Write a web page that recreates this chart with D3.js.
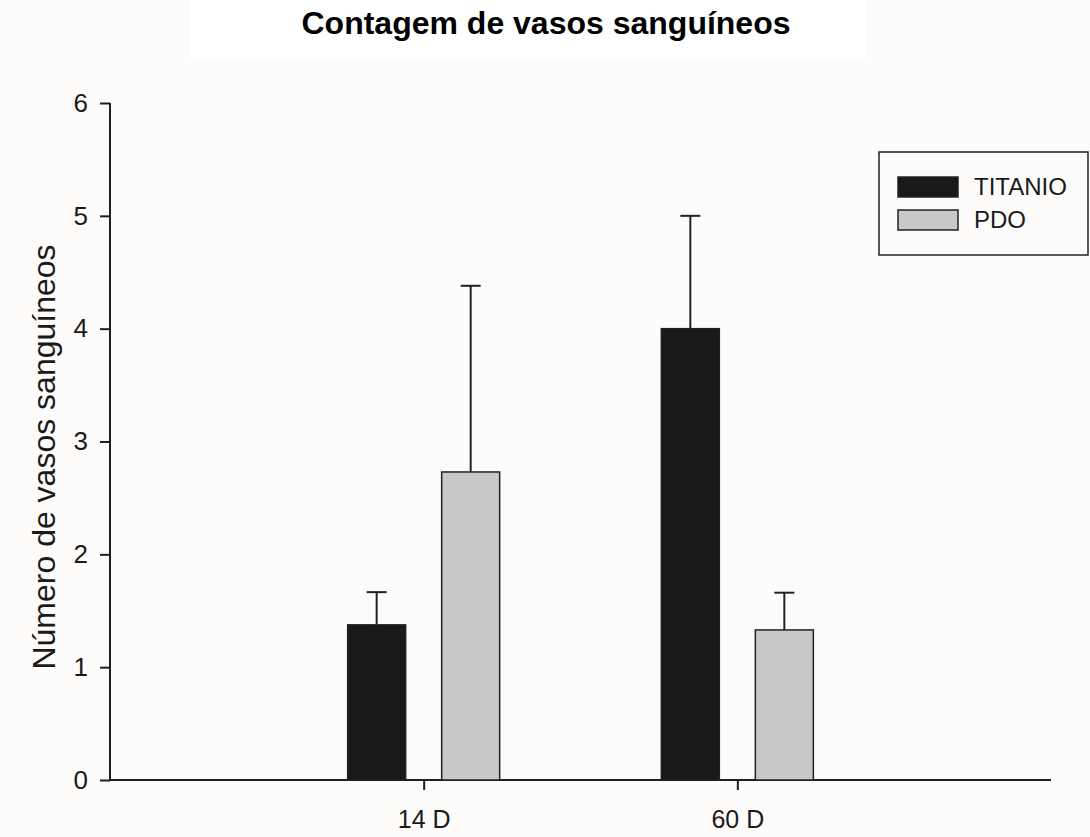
<!DOCTYPE html>
<html>
<head>
<meta charset="utf-8">
<script src="https://cdn.jsdelivr.net/npm/d3@7"></script>
<style>
  html, body { margin: 0; padding: 0; background: #fdfcfa; }
  svg { display: block; }
  text { font-family: "Liberation Sans", Arial, sans-serif; fill: #1a1a1a; }
</style>
</head>
<body>
<svg id="chart" width="1090" height="837"></svg>
<script>
// Group labels (days) and the two material series
const groups = ["14 D", "60 D"];
const seriesNames = ["TITANIO", "PDO"];
const titanioMeans = [1.375, 4.0];
const titanioErrors = [0.29, 1.0];
const pdoMeans = [2.73, 1.33];
const pdoErrors = [1.65, 0.33];
const yTicks = [0, 1, 2, 3, 4, 5, 6];
const seriesFill = ["#191919", "#c8c8c8"];

const rows = [];
groups.forEach((g, i) => {
  rows.push({ group: g, gi: i + 1, series: "TITANIO", mean: titanioMeans[i], err: titanioErrors[i] });
  rows.push({ group: g, gi: i + 1, series: "PDO", mean: pdoMeans[i], err: pdoErrors[i] });
});

const svg = d3.select("#chart");
const plot = { left: 110, right: 1051, top: 103, bottom: 780 };

const x = d3.scaleLinear().domain([0, 3]).range([plot.left, plot.right]);
const inner = d3.scaleBand().domain(seriesNames).range([-76, 76]).paddingInner(0.383);
const y = d3.scaleLinear().domain([0, 6]).range([plot.bottom, plot.top]);
const color = d3.scaleOrdinal().domain(seriesNames).range(seriesFill);

// Title panel
svg.append("rect").attr("x", 190).attr("y", 0).attr("width", 676).attr("height", 62).attr("fill", "#ffffff");
svg.append("text")
  .attr("x", 546).attr("y", 34)
  .attr("text-anchor", "middle")
  .style("font-size", "32px").style("font-weight", "bold").style("fill", "#000")
  .text("Contagem de vasos sanguíneos");

// Y axis
const yAxis = svg.append("g")
  .attr("transform", `translate(${plot.left},0)`)
  .call(d3.axisLeft(y).tickValues(yTicks).tickFormat(d3.format("d")).tickSize(10).tickPadding(12));
yAxis.select(".domain").attr("stroke", "#1e1e1e").attr("stroke-width", 2).attr("d", `M0,${plot.top}V${plot.bottom}`);
yAxis.selectAll(".tick line").attr("stroke", "#1e1e1e").attr("stroke-width", 2);
yAxis.selectAll(".tick text").style("font-size", "26px").style("font-family", "Liberation Sans, Arial, sans-serif").attr("fill", "#1a1a1a");

// X axis
const xAxis = svg.append("g")
  .attr("transform", `translate(0,${plot.bottom})`)
  .call(d3.axisBottom(x).tickValues([1, 2]).tickFormat(d => groups[d - 1]).tickSize(10).tickPadding(20));
xAxis.select(".domain").attr("stroke", "#1e1e1e").attr("stroke-width", 2).attr("d", `M${plot.left},0H${plot.right}`);
xAxis.selectAll(".tick line").attr("stroke", "#1e1e1e").attr("stroke-width", 2);
xAxis.selectAll(".tick text").style("font-size", "25px").style("font-family", "Liberation Sans, Arial, sans-serif").attr("fill", "#1a1a1a");

// Y axis title
svg.append("text")
  .attr("transform", `translate(55,457) rotate(-90)`)
  .attr("text-anchor", "middle")
  .style("font-size", "32px")
  .text("Número de vasos sanguíneos");

// Error bars (upper only), drawn behind bars
const eb = svg.append("g").attr("stroke", "#222").attr("stroke-width", 2);
rows.forEach(d => {
  const cx = x(d.gi) + inner(d.series) + inner.bandwidth() / 2;
  eb.append("line").attr("x1", cx).attr("x2", cx).attr("y1", y(d.mean)).attr("y2", y(d.mean + d.err));
  eb.append("line").attr("x1", cx - 10).attr("x2", cx + 10).attr("y1", y(d.mean + d.err)).attr("y2", y(d.mean + d.err));
});

// Bars
svg.append("g").selectAll("rect")
  .data(rows).join("rect")
  .attr("x", d => x(d.gi) + inner(d.series))
  .attr("width", inner.bandwidth())
  .attr("y", d => y(d.mean))
  .attr("height", d => y(0) - y(d.mean))
  .attr("fill", d => color(d.series))
  .attr("stroke", "#222").attr("stroke-width", 1.5);

// Legend
const lg = svg.append("g");
lg.append("rect").attr("x", 879).attr("y", 152).attr("width", 209).attr("height", 103)
  .attr("fill", "#fdfcfa").attr("stroke", "#222").attr("stroke-width", 1.5);
seriesNames.forEach((s, i) => {
  lg.append("rect").attr("x", 898).attr("y", 177 + i * 33).attr("width", 60).attr("height", 20)
    .attr("fill", color(s)).attr("stroke", "#222").attr("stroke-width", 1.5);
  lg.append("text").attr("x", 974).attr("y", 195 + i * 33)
    .style("font-size", "24px").text(s);
});
</script>
</body>
</html>
